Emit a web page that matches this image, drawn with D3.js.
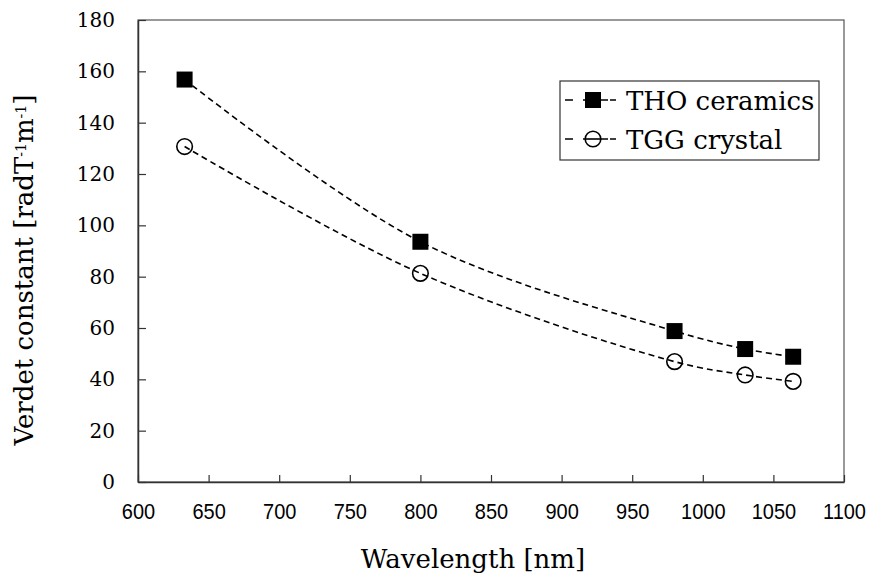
<!DOCTYPE html>
<html>
<head>
<meta charset="utf-8">
<script src="https://cdn.jsdelivr.net/npm/d3@7"></script>
<style>
  body { margin: 0; background: #fff; }
  svg text { fill: #000; }
</style>
</head>
<body>
<svg id="chart" width="872" height="576"></svg>
<script>
// data
var wavelengths = [633, 800, 980, 1030, 1064];
var thoValues = [156.8, 93.6, 58.8, 51.8, 48.8];
var tggValues = [130.7, 81.3, 46.9, 41.7, 39.2];
var xTicks = [600, 650, 700, 750, 800, 850, 900, 950, 1000, 1050, 1100];
var yTicks = [0, 20, 40, 60, 80, 100, 120, 140, 160, 180];
var seriesNames = ["THO ceramics", "TGG crystal"];

var serif = "'DejaVu Serif', 'Liberation Serif', serif";
var sans = "'Liberation Sans', Arial, sans-serif";

var svg = d3.select("#chart");
var pLeft = 138, pRight = 844, pTop = 20, pBottom = 482;

var x = d3.scaleLinear().domain([600, 1100]).range([pLeft, pRight]);
var y = d3.scaleLinear().domain([0, 180]).range([pBottom, pTop]);

// frame (top + right edge)
svg.append("rect")
    .attr("x", pLeft).attr("y", pTop)
    .attr("width", pRight - pLeft).attr("height", pBottom - pTop)
    .attr("fill", "none").attr("stroke", "#555").attr("stroke-width", 1.2);

// x axis, ticks pointing in
var gx = svg.append("g")
    .attr("transform", "translate(0," + pBottom + ")")
    .call(d3.axisBottom(x).tickValues(xTicks).tickFormat(d3.format("d"))
        .tickSize(-7).tickSizeOuter(0).tickPadding(19));
gx.select(".domain").attr("stroke", "#333").attr("stroke-width", 1.5);
gx.selectAll(".tick line").attr("stroke", "#333").attr("stroke-width", 1.2);
gx.selectAll(".tick text")
    .style("font-family", sans)
    .style("font-size", "20px").attr("fill", "#000")
    .attr("transform", "scale(1,1.12)");

// y axis, ticks pointing in
var gy = svg.append("g")
    .attr("transform", "translate(" + pLeft + ",0)")
    .call(d3.axisLeft(y).tickValues(yTicks).tickFormat(d3.format("d"))
        .tickSize(-8).tickSizeOuter(0).tickPadding(23));
gy.select(".domain").attr("stroke", "#333").attr("stroke-width", 1.5);
gy.selectAll(".tick line").attr("stroke", "#333").attr("stroke-width", 1.2);
gy.selectAll(".tick text")
    .style("font-family", serif)
    .style("font-size", "20px").attr("fill", "#000");

// curves
var line = d3.line()
    .x(function (d) { return x(d[0]); })
    .y(function (d) { return y(d[1]); })
    .curve(d3.curveCatmullRom.alpha(0.5));

var thoPts = wavelengths.map(function (w, i) { return [w, thoValues[i]]; });
var tggPts = wavelengths.map(function (w, i) { return [w, tggValues[i]]; });

[thoPts, tggPts].forEach(function (pts) {
    svg.append("path")
        .datum(pts)
        .attr("d", line)
        .attr("fill", "none")
        .attr("stroke", "#000")
        .attr("stroke-width", 1.6)
        .attr("stroke-dasharray", "6,4");
});

// markers
svg.selectAll(".sq").data(thoPts).enter().append("rect")
    .attr("class", "sq")
    .attr("x", function (d) { return x(d[0]) - 8; })
    .attr("y", function (d) { return y(d[1]) - 8; })
    .attr("width", 16).attr("height", 16)
    .attr("fill", "#000");

svg.selectAll(".ci").data(tggPts).enter().append("circle")
    .attr("class", "ci")
    .attr("cx", function (d) { return x(d[0]); })
    .attr("cy", function (d) { return y(d[1]); })
    .attr("r", 7.8)
    .attr("fill", "none").attr("stroke", "#000").attr("stroke-width", 1.6);

// legend
var lg = svg.append("g");
lg.append("rect")
    .attr("x", 560).attr("y", 81).attr("width", 259).attr("height", 79)
    .attr("fill", "#fff").attr("stroke", "#333").attr("stroke-width", 1.2);

seriesNames.forEach(function (name, i) {
    var cy = 100 + i * 39;
    lg.append("line")
        .attr("x1", 565).attr("x2", 616).attr("y1", cy).attr("y2", cy)
        .attr("stroke", "#000").attr("stroke-width", 1.6)
        .attr("stroke-dasharray", "8,10,25,2,8");
    if (i === 0) {
        lg.append("rect").attr("x", 585).attr("y", cy - 8).attr("width", 16).attr("height", 16).attr("fill", "#000");
    } else {
        lg.append("circle").attr("cx", 593).attr("cy", cy).attr("r", 7.8)
            .attr("fill", "#fff").attr("stroke", "#000").attr("stroke-width", 1.6);
        lg.append("line").attr("x1", 585).attr("x2", 601).attr("y1", cy).attr("y2", cy)
            .attr("stroke", "#000").attr("stroke-width", 1.6);
    }
    lg.append("text")
        .attr("x", 626).attr("y", cy + 10)
        .style("font-family", serif)
        .style("font-size", "26px")
        .text(name);
});

// axis titles
svg.append("text")
    .attr("x", 473).attr("y", 568)
    .attr("text-anchor", "middle")
    .style("font-family", serif)
    .style("font-size", "26px")
    .text("Wavelength [nm]");

var yt = svg.append("text")
    .attr("transform", "translate(33,270) rotate(-90)")
    .attr("text-anchor", "middle")
    .style("font-family", serif)
    .style("font-size", "26px");
yt.append("tspan").text("Verdet constant [radT");
yt.append("tspan").style("font-size", "14px").attr("baseline-shift", "50%").text("-1");
yt.append("tspan").text("m");
yt.append("tspan").style("font-size", "14px").attr("baseline-shift", "50%").text("-1");
yt.append("tspan").text("]");
</script>
</body>
</html>
